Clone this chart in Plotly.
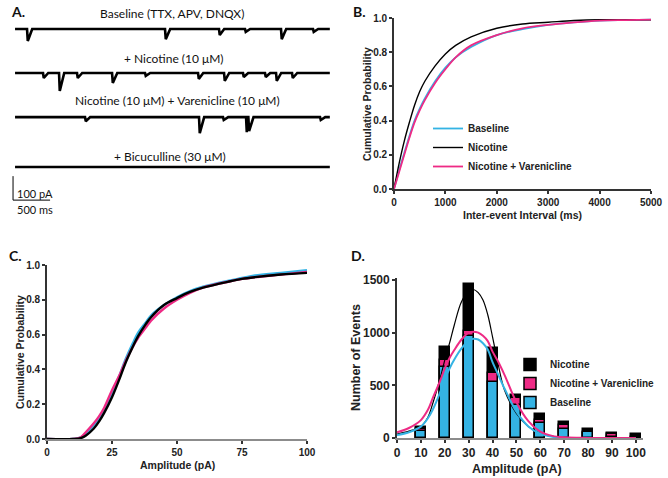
import plotly.graph_objects as go

W, H = 668, 478

def fx(p):
    return p / W

def fy(p):
    return 1 - p / H

BLUE = "#34B3E4"
PINK = "#EE2A85"
BLACK = "#000000"
AX = "#333333"
AX_LIGHT = "#8c8c8c"

# ---- panel A: example traces (event times in ms, amplitudes in pA)
T_END = 4250
base_t = [162, 2025, 2754, 3105, 3591, 4023]
base_a = [50, 42, 25, 12, 42, 12]
nic_t = [378, 594, 837, 1310, 1755, 2471, 2822, 3078, 3375, 3524, 3740]
nic_a = [21, 75, 21, 42, 12, 25, 33, 17, 17, 33, 21]
var_t = [945, 2484, 2808, 3119, 3150, 4118]
var_a = [17, 67, 12, 63, 58, 12]
bic_t = []
bic_a = []
trace_titles = ["Baseline (TTX, APV, DNQX)", "+ Nicotine (10 μM)",
                "Nicotine (10 μM) + Varenicline (10 μM)", "+ Bicuculline (30 μM)"]

# ---- panel B: cumulative inter-event interval
iei_ms = [0, 100, 200, 300, 400, 500, 600, 800, 1000, 1200, 1500, 2000, 2500, 3000, 3500, 4000, 4500, 5000]
iei_base = [0, 0.11, 0.21, 0.31, 0.40, 0.47, 0.53, 0.63, 0.71, 0.77, 0.83, 0.90, 0.935, 0.96, 0.975, 0.985, 0.988, 0.99]
iei_nic = [0, 0.15, 0.28, 0.39, 0.49, 0.57, 0.63, 0.72, 0.79, 0.84, 0.89, 0.94, 0.965, 0.975, 0.985, 0.99, 0.99, 0.99]
iei_var = [0, 0.10, 0.20, 0.30, 0.39, 0.46, 0.52, 0.62, 0.70, 0.77, 0.84, 0.90, 0.94, 0.96, 0.975, 0.985, 0.988, 0.99]

# ---- panel C: cumulative amplitude
amp_pa = [0, 10, 13, 15, 18, 20, 22, 25, 28, 30, 33, 35, 38, 40, 45, 50, 55, 60, 70, 75, 80, 90, 100]
amp_nic = [0, 0, 0.005, 0.02, 0.06, 0.10, 0.15, 0.24, 0.35, 0.43, 0.53, 0.59, 0.66, 0.70, 0.77, 0.81, 0.845, 0.87, 0.905, 0.92, 0.93, 0.945, 0.955]
amp_base = [0, 0, 0.01, 0.03, 0.08, 0.11, 0.16, 0.26, 0.37, 0.45, 0.55, 0.61, 0.67, 0.71, 0.77, 0.815, 0.85, 0.875, 0.91, 0.925, 0.94, 0.955, 0.97]
amp_var = [0, 0, 0.01, 0.04, 0.09, 0.13, 0.18, 0.28, 0.37, 0.44, 0.53, 0.58, 0.64, 0.68, 0.75, 0.80, 0.84, 0.87, 0.905, 0.92, 0.93, 0.945, 0.96]

# ---- panel D: amplitude histogram + fits
bins = [10, 20, 30, 40, 50, 60, 70, 80, 90, 100]
hist_nic = [108, 860, 1465, 855, 405, 225, 152, 82, 50, 35]
hist_var = [88, 740, 1020, 620, 377, 170, 123, 50, 35, 10]
hist_base = [62, 672, 965, 530, 310, 139, 89, 54, 8, 4]
fit_x = [0, 5, 10, 13, 15, 18, 20, 22, 24, 27, 30, 32, 34, 36, 38, 40, 42, 45, 50, 55, 60, 65, 70, 80, 90, 100]
fit_nic = [38, 65, 110, 200, 330, 560, 740, 900, 1073, 1294, 1390, 1410, 1380, 1310, 1170, 960, 740, 455, 234, 108, 44, 15, 5, 0, 0, 0]
fit_base = [28, 55, 108, 190, 270, 430, 560, 660, 745, 850, 925, 943, 935, 900, 840, 720, 620, 470, 250, 110, 40, 12, 3, 0, 0, 0]
fit_var = [55, 95, 170, 270, 380, 540, 660, 760, 835, 935, 1000, 1009, 1000, 970, 920, 820, 740, 600, 340, 160, 60, 20, 6, 1, 0, 0]

# layout constants for panel A (pA offsets of each sweep)
A_OFFSETS = [-121, -304, -488, -696]
A_TITLE_Y = [13, 58, 100, 156]
A_TITLE_X = [172, 174, 177, 170]


def sweep(times, amps, offset):
    xs, ys = [0], [offset]
    for i, (t, a) in enumerate(zip(times, amps)):
        end = t + 70
        if i + 1 < len(times):
            end = min(end, times[i + 1] - 2)
        xs += [t, t + 10, end]
        ys += [offset, offset - a, offset]
    xs.append(T_END)
    ys.append(offset)
    return xs, ys


fig = go.Figure()

for (tt, aa), off in zip([(base_t, base_a), (nic_t, nic_a), (var_t, var_a), (bic_t, bic_a)], A_OFFSETS):
    xs, ys = sweep(tt, aa, off)
    fig.add_trace(go.Scatter(x=xs, y=ys, mode="lines", line=dict(color=BLACK, width=2.6),
                             showlegend=False, hoverinfo="skip", xaxis="x", yaxis="y"))
# scale bar: 100 pA / 500 ms
fig.add_trace(go.Scatter(x=[-27, -27, 473], y=[-734, -834, -834], mode="lines",
                         line=dict(color=BLACK, width=1), showlegend=False, xaxis="x", yaxis="y"))

# panel B
for name, ys, col, w in [("Baseline", iei_base, BLUE, 1.8), ("Nicotine", iei_nic, BLACK, 1.4),
                         ("Nicotine + Varenicline", iei_var, PINK, 1.8)]:
    fig.add_trace(go.Scatter(x=iei_ms, y=ys, mode="lines", name=name, line=dict(color=col, width=w, shape="spline"),
                             xaxis="x2", yaxis="y2", legend="legend"))

# panel C
for ys, col in [(amp_base, BLUE), (amp_var, PINK), (amp_nic, BLACK)]:
    fig.add_trace(go.Scatter(x=amp_pa, y=ys, mode="lines", line=dict(color=col, width=2.4, shape="spline"),
                             showlegend=False, xaxis="x3", yaxis="y3"))

# panel D
for name, ys, col in [("Nicotine", hist_nic, BLACK), ("Nicotine + Varenicline", hist_var, PINK),
                      ("Baseline", hist_base, BLUE)]:
    fig.add_trace(go.Bar(x=bins, y=ys, name=name, width=4.2, marker=dict(color=col, line=dict(color=BLACK, width=1.5)),
                         xaxis="x4", yaxis="y4", legend="legend2"))
for ys, col, w in [(fit_nic, BLACK, 1.2), (fit_base, BLUE, 2), (fit_var, PINK, 2)]:
    fig.add_trace(go.Scatter(x=fit_x, y=ys, mode="lines", line=dict(color=col, width=w, shape="spline"),
                             showlegend=False, xaxis="x4", yaxis="y4"))

tick_font = dict(family="Liberation Sans", size=10, color="#222", weight="bold")
title_font = dict(family="Liberation Sans", size=10.5, color="#222", weight="bold")
big_title = dict(title_font, size=12.5)
common = dict(showgrid=False, zeroline=False, showline=True, linecolor=AX, linewidth=1.8, automargin=False,
              ticks="outside", ticklen=3, tickwidth=1.5, tickcolor=AX, tickfont=tick_font)

ann = []
for txt, x, y in zip(trace_titles, A_TITLE_X, A_TITLE_Y):
    ann.append(dict(text=txt, x=fx(x), y=fy(y), xref="paper", yref="paper", xanchor="center", yanchor="middle",
                    showarrow=False, font=dict(family="Lato", size=12, color="#111")))
ann.append(dict(text="100 pA", x=fx(15), y=fy(193), xref="paper", yref="paper", xanchor="left", yanchor="middle",
                showarrow=False, font=dict(family="Lato", size=11, color="#111")))
ann.append(dict(text="500 ms", x=fx(15), y=fy(209), xref="paper", yref="paper", xanchor="left", yanchor="middle",
                showarrow=False, font=dict(family="Lato", size=11, color="#111")))
for lab, x, y in [("A.", 9, 12), ("B.", 351, 12), ("C.", 7, 256), ("D.", 349, 256)]:
    ann.append(dict(text=lab, x=fx(x), y=fy(y), xref="paper", yref="paper", xanchor="left", yanchor="middle",
                    showarrow=False, font=dict(family="Lato", size=14, color="#111", weight="bold")))
# axis titles
for txt, x, y, ang, f in [("Inter-event Interval (ms)", 522, 215, 0, title_font),
                          ("Cumulative Probability", 367, 104, -90, title_font),
                          ("Amplitude (pA)", 177, 465, 0, title_font),
                          ("Cumulative Probability", 20, 352, -90, title_font),
                          ("Amplitude (pA)", 517, 469, 0, big_title),
                          ("Number of Events", 356, 358, -90, big_title)]:
    ann.append(dict(text=txt, x=fx(x), y=fy(y), xref="paper", yref="paper", xanchor="center", yanchor="middle",
                    textangle=ang, showarrow=False, font=f))

fig.update_layout(
    width=W, height=H, margin=dict(l=0, r=0, t=0, b=0, autoexpand=False),
    paper_bgcolor="white", plot_bgcolor="white", barmode="overlay", bargap=0,
    annotations=ann,
    xaxis=dict(domain=[0, fx(335)], range=[-203, 4320], visible=False, automargin=False),
    yaxis=dict(domain=[fy(215), 1], range=[-896, 0], visible=False, automargin=False),
    xaxis2=dict(domain=[fx(394), fx(651)], range=[0, 5000], anchor="y2", tickvals=[0, 1000, 2000, 3000, 4000, 5000],
                **common),
    yaxis2=dict(domain=[fy(189), fy(18)], range=[0, 1], anchor="x2", tickvals=[0, 0.2, 0.4, 0.6, 0.8, 1.0],
                tickformat=".1f", **common),
    xaxis3=dict(domain=[fx(47), fx(307)], range=[0, 100], anchor="y3", tickvals=[0, 25, 50, 75, 100],
                **dict(common, linecolor=AX_LIGHT)),
    yaxis3=dict(domain=[fy(439), fy(265)], range=[0, 1], anchor="x3", tickvals=[0, 0.2, 0.4, 0.6, 0.8, 1.0],
                tickformat=".1f", **common),
    xaxis4=dict(domain=[fx(397), fx(643)], range=[0, 103], anchor="y4", tickvals=[0] + bins,
                **dict(common, linecolor=AX_LIGHT, tickfont=dict(tick_font, size=12))),
    yaxis4=dict(domain=[fy(438), fy(278)], range=[0, 1519], anchor="x4", tickvals=[0, 500, 1000, 1500],
                **dict(common, tickfont=dict(tick_font, size=12))),
    legend=dict(x=fx(428), y=fy(114), xanchor="left", yanchor="top", bgcolor="rgba(0,0,0,0)",
                font=dict(family="Liberation Sans", size=10, color="#222", weight="bold"), itemwidth=30),
    legend2=dict(x=fx(510), y=fy(350), xanchor="left", yanchor="top", bgcolor="rgba(0,0,0,0)",
                 font=dict(family="Liberation Sans", size=10, color="#222", weight="bold"), itemwidth=30),
)

# drop the default body margin so the figure fills the window exactly
fig.write_html("out.html", config={"displayModeBar": False},
               post_script="document.body.style.margin='0';")
